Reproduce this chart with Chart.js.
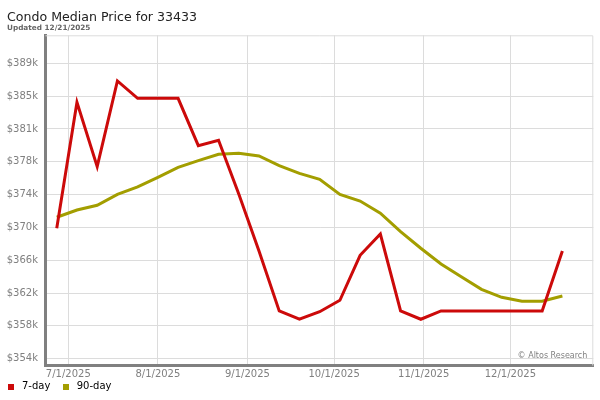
<!DOCTYPE html>
<html>
<head>
<meta charset="utf-8">
<script src="https://cdn.jsdelivr.net/npm/chart.js@4.4.1/dist/chart.umd.min.js"></script>
<style>
  html, body { margin: 0; padding: 0; background: #fff; }
  #wrap { width: 600px; height: 400px; }
</style>
</head>
<body>
<div id="wrap"><canvas id="myChart"></canvas></div>
<script>
// weekly points, 27 Jun 2025 .. 19 Dec 2025
var dates = [
  "2025-06-27", "2025-07-04", "2025-07-11", "2025-07-18", "2025-07-25",
  "2025-08-01", "2025-08-08", "2025-08-15", "2025-08-22", "2025-08-29",
  "2025-09-05", "2025-09-12", "2025-09-19", "2025-09-26", "2025-10-03",
  "2025-10-10", "2025-10-17", "2025-10-24", "2025-10-31", "2025-11-07",
  "2025-11-14", "2025-11-21", "2025-11-28", "2025-12-05", "2025-12-12",
  "2025-12-19"
];
var sevenDay = [
  369570, 384620, 376930, 387170, 385100,
  385100, 385100, 379440, 380080, 373670,
  366860, 359700, 358710, 359610, 360980,
  366350, 368890, 359700, 358710, 359700,
  359700, 359700, 359700, 359700, 359700,
  366860
];
var ninetyDay = [
  370890, 371760, 372320, 373630, 374510,
  375660, 376860, 377650, 378410, 378530,
  378210, 377050, 376140, 375430, 373630,
  372830, 371370, 369170, 367190, 365310,
  363790, 362290, 361330, 360860, 360860,
  361490
];
var monthTicks = ["2025-07-01", "2025-08-01", "2025-09-01", "2025-10-01", "2025-11-01", "2025-12-01"];
var monthLabels = ["7/1/2025", "8/1/2025", "9/1/2025", "10/1/2025", "11/1/2025", "12/1/2025"];
var yTicks = [354000, 357920, 361840, 365760, 369680, 373600, 377520, 381440, 385360, 389280];

// days since 7/1/2025
function dayNum(s) {
  var p = s.split("-");
  return (Date.UTC(+p[0], +p[1] - 1, +p[2]) - Date.UTC(2025, 6, 1)) / 86400000;
}
var xDays = dates.map(dayNum);
var tickDays = monthTicks.map(dayNum);

function pts(vals) {
  return vals.map(function (v, i) { return {x: xDays[i], y: v}; });
}

// small square used as the legend marker
function swatch(color) {
  var c = document.createElement("canvas");
  c.width = 6;
  c.height = 6;
  var g = c.getContext("2d");
  g.fillStyle = color;
  g.fillRect(0, 0, 6, 6);
  return c;
}

var RED = "#cc0a0a";
var OLIVE = "#a39e00";
var FONT = "'DejaVu Sans', Verdana, sans-serif";

var extras = {
  id: 'extras',
  beforeDatasetsDraw: function (chart) {
    var a = chart.chartArea, c = chart.ctx;
    c.save();
    c.strokeStyle = "#dcdcdc";
    c.lineWidth = 1;
    c.beginPath();
    c.moveTo(a.left, a.top + 0.5);
    c.lineTo(a.right - 0.5, a.top + 0.5);
    c.lineTo(a.right - 0.5, a.bottom);
    c.stroke();
    c.fillStyle = "#808080";
    c.font = "8px " + FONT;
    c.textAlign = "right";
    c.fillText("\u00a9 Altos Research", a.right - 6, 356);
    c.restore();
  },
  afterDraw: function (chart) {
    var c = chart.ctx;
    c.save();
    c.textAlign = "left";
    c.fillStyle = "#222";
    c.font = "12.6px " + FONT;
    c.fillText("Condo Median Price for 33433", 7, 18);
    c.fillStyle = "#666";
    c.font = "bold 7.3px " + FONT;
    c.fillText("Updated 12/21/2025", 7, 28);
    c.restore();
  }
};

var ctx = document.getElementById("myChart");
var myChart = new Chart(ctx, {
  type: 'line',
  data: {
    datasets: [
      {
        label: "7-day",
        data: pts(sevenDay),
        borderColor: RED,
        backgroundColor: RED,
        pointStyle: swatch(RED),
        borderWidth: 3,
        pointRadius: 0,
        tension: 0
      },
      {
        label: "90-day",
        data: pts(ninetyDay),
        borderColor: OLIVE,
        backgroundColor: OLIVE,
        pointStyle: swatch(OLIVE),
        borderWidth: 3,
        pointRadius: 0,
        tension: 0
      }
    ]
  },
  options: {
    responsive: true,
    maintainAspectRatio: false,
    animation: false,
    layout: {
      padding: {left: 2, right: 6.7, top: 35.3, bottom: -1.5}
    },
    scales: {
      x: {
        type: 'linear',
        min: -7.89,
        max: 181.7,
        afterBuildTicks: function (scale) {
          scale.ticks = tickDays.map(function (d) { return {value: d}; });
        },
        afterFit: function (scale) { scale.height = 13; },
        ticks: {
          color: "#808080",
          font: {family: FONT, size: 10},
          padding: 2.5,
          maxRotation: 0,
          autoSkip: false,
          callback: function (v) {
            var i = tickDays.indexOf(v);
            return i >= 0 ? monthLabels[i] : "";
          }
        },
        grid: {color: "#dcdcdc", lineWidth: 1, drawTicks: false},
        border: {color: "#808080", width: 3}
      },
      y: {
        min: 353188,
        max: 392623,
        afterBuildTicks: function (scale) {
          scale.ticks = yTicks.map(function (v) { return {value: v}; });
        },
        afterFit: function (scale) { scale.width = 43.5; },
        ticks: {
          color: "#808080",
          font: {family: FONT, size: 10},
          padding: 7.5,
          callback: function (v) { return "$" + Math.round(v / 1000) + "k"; }
        },
        grid: {color: "#dcdcdc", lineWidth: 1, drawTicks: false},
        border: {color: "#808080", width: 3}
      }
    },
    plugins: {
      legend: {
        display: true,
        position: 'bottom',
        align: 'start',
        labels: {
          usePointStyle: true,
          pointStyleWidth: 12,
          padding: 3,
          color: "#000",
          font: {family: FONT, size: 10},
          generateLabels: function (chart) {
            var items = Chart.defaults.plugins.legend.labels.generateLabels(chart);
            items.forEach(function (it, i) {
              if (i < items.length - 1) it.text += "  ";
            });
            return items;
          }
        }
      },
      title: {display: false},
      tooltip: {enabled: false}
    }
  },
  plugins: [extras]
});
</script>
</body>
</html>
